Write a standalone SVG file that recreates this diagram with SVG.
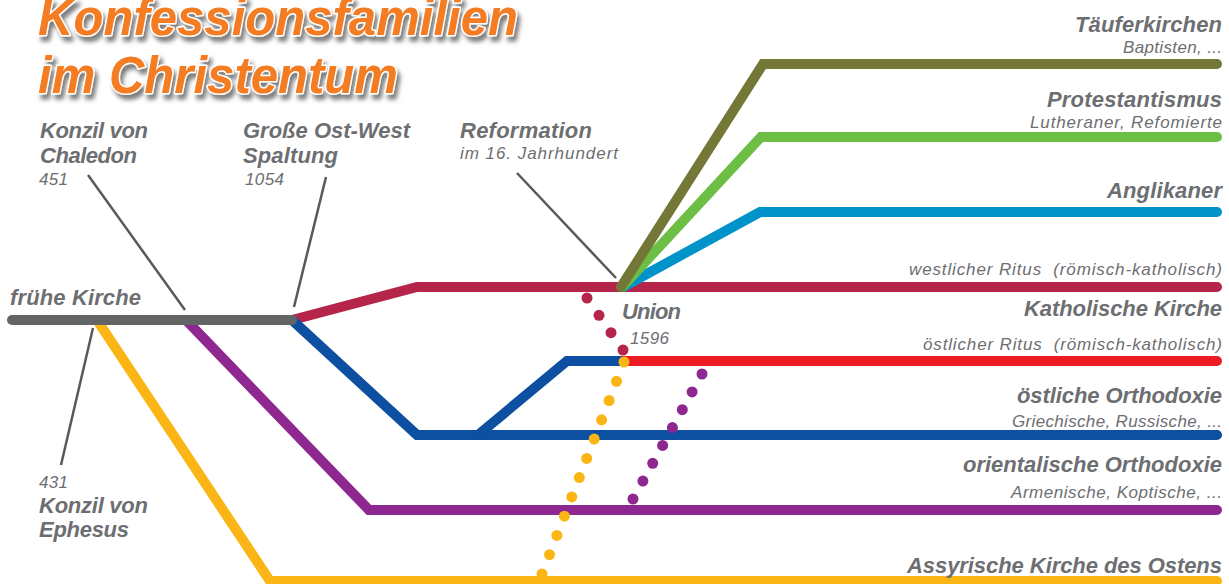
<svg xmlns="http://www.w3.org/2000/svg" width="1229" height="584" viewBox="0 0 1229 584">
<defs>
<filter id="sh" x="-10%" y="-30%" width="120%" height="170%">
<feDropShadow dx="3" dy="5" stdDeviation="2.2" flood-color="#555" flood-opacity="0.75"/>
</filter>
</defs>
<style>
.ln{fill:none;stroke-width:10;stroke-linecap:round;stroke-linejoin:miter}
.ld{fill:none;stroke:#58595B;stroke-width:2.5}
.b{font-family:"Liberation Sans",Arial,sans-serif;font-weight:bold;font-style:italic;font-size:22px;fill:#6D6E71}
.r{font-family:"Liberation Sans",Arial,sans-serif;font-style:italic;font-size:17px;fill:#6D6E71}
.e{text-anchor:end}
.t{font-family:"Liberation Sans",Arial,sans-serif;font-weight:bold;font-style:italic;font-size:52px;fill:#F47B20;stroke:#fff;stroke-width:3;paint-order:stroke;stroke-linejoin:round}
</style>
<rect width="1229" height="584" fill="#fff"/>
<g id="title" filter="url(#sh)">
<text class="t" x="38" y="35" textLength="480" lengthAdjust="spacingAndGlyphs">Konfessionsfamilien</text>
<text class="t" x="38" y="93" textLength="360" lengthAdjust="spacingAndGlyphs">im Christentum</text>
</g>
<g id="connectors">
<path class="ln" stroke="#FBB616" d="M97,320 L270,581 L1217,581"/>
<path class="ln" stroke="#8E278F" d="M186,320 L369,510 L1217,510"/>
<path class="ln" stroke="#B5254A" d="M292,320 L417,287 L1217,287"/>
<path class="ln" stroke="#0D4FA0" d="M292,320 L417,435 L1217,435"/>
<path class="ln" stroke="#0D4FA0" d="M478,435 L567,361 L626,361"/>
<path class="ln" stroke="#ED1C24" d="M624,361 L1217,361"/>
<path class="ln" stroke="#636466" d="M12,320 L292,320"/>
<path class="ln" stroke="#0093C9" d="M623,287 L760,212 L1217,212"/>
<path class="ln" stroke="#6CBE45" d="M622,287 L761,137 L1217,137"/>
<path class="ln" stroke="#737837" d="M621,287 L763,64 L1217,64"/>
<path class="ld" d="M88,175 L185,310"/>
<path class="ld" d="M326,177 L294,307"/>
<path class="ld" d="M93,328 L61,465"/>
<path class="ld" d="M517,173 L616,278"/>
</g>
<g id="dots-union" fill="#B5254A">
<circle cx="587" cy="298" r="5.5"/><circle cx="599" cy="315.3" r="5.5"/><circle cx="611" cy="332.7" r="5.5"/><circle cx="623" cy="350" r="5.5"/>
</g>
<g id="dots-assyrian" fill="#FBB616">
<circle cx="624" cy="362" r="5.5"/><circle cx="616.5" cy="381.3" r="5.5"/><circle cx="609.1" cy="400.5" r="5.5"/><circle cx="601.6" cy="419.8" r="5.5"/><circle cx="594.2" cy="439.1" r="5.5"/><circle cx="586.7" cy="458.4" r="5.5"/><circle cx="579.3" cy="477.6" r="5.5"/><circle cx="571.8" cy="496.9" r="5.5"/><circle cx="564.4" cy="516.2" r="5.5"/><circle cx="556.9" cy="535.4" r="5.5"/><circle cx="549.5" cy="554.7" r="5.5"/><circle cx="542" cy="574" r="5.5"/>
</g>
<g id="dots-oriental" fill="#8E278F">
<circle cx="702" cy="374" r="5.5"/><circle cx="692.1" cy="391.9" r="5.5"/><circle cx="682.3" cy="409.7" r="5.5"/><circle cx="672.4" cy="427.6" r="5.5"/><circle cx="662.6" cy="445.4" r="5.5"/><circle cx="652.7" cy="463.3" r="5.5"/><circle cx="642.9" cy="481.1" r="5.5"/><circle cx="633" cy="499" r="5.5"/>
</g>
<g id="chaledon">
<text class="b" x="40" y="138" textLength="108">Konzil von</text>
<text class="b" x="40" y="163" textLength="97">Chaledon</text>
<text class="r" x="39" y="185" textLength="29">451</text>
</g>
<g id="schisma">
<text class="b" x="243" y="138" textLength="167">Große Ost-West</text>
<text class="b" x="243" y="163" textLength="95">Spaltung</text>
<text class="r" x="245" y="185" textLength="39">1054</text>
</g>
<g id="reformation">
<text class="b" x="460" y="138" textLength="132">Reformation</text>
<text class="r" x="460" y="159" textLength="158">im 16. Jahrhundert</text>
</g>
<g id="fruehe-kirche">
<text class="b" x="10" y="305" textLength="131">frühe Kirche</text>
</g>
<g id="union">
<text class="b" x="622" y="319" textLength="59">Union</text>
<text class="r" x="630" y="344" textLength="39">1596</text>
</g>
<g id="ephesus">
<text class="r" x="39" y="488" textLength="29">431</text>
<text class="b" x="39" y="513" textLength="109">Konzil von</text>
<text class="b" x="39" y="537" textLength="90">Ephesus</text>
</g>
<g id="taeufer">
<text class="b e" x="1222" y="32" textLength="147">Täuferkirchen</text>
<text class="r e" x="1222" y="53" textLength="99">Baptisten, ...</text>
</g>
<g id="protestantismus">
<text class="b e" x="1222" y="107" textLength="175">Protestantismus</text>
<text class="r e" x="1222" y="128" textLength="192">Lutheraner, Refomierte</text>
</g>
<g id="anglikaner">
<text class="b e" x="1222" y="198" textLength="115">Anglikaner</text>
</g>
<g id="katholisch">
<text class="r e" x="1222" y="275" textLength="313" xml:space="preserve">westlicher Ritus  (römisch-katholisch)</text>
<text class="b e" x="1222" y="316" textLength="198">Katholische Kirche</text>
<text class="r e" x="1222" y="350" textLength="299" xml:space="preserve">östlicher Ritus  (römisch-katholisch)</text>
</g>
<g id="orthodox">
<text class="b e" x="1222" y="403" textLength="205">östliche Orthodoxie</text>
<text class="r e" x="1222" y="427" textLength="210">Griechische, Russische, ...</text>
</g>
<g id="orientalisch">
<text class="b e" x="1222" y="472" textLength="259">orientalische Orthodoxie</text>
<text class="r e" x="1222" y="498" textLength="211">Armenische, Koptische, ...</text>
</g>
<g id="assyrisch">
<text class="b e" x="1222" y="573" textLength="315">Assyrische Kirche des Ostens</text>
</g>
</svg>
